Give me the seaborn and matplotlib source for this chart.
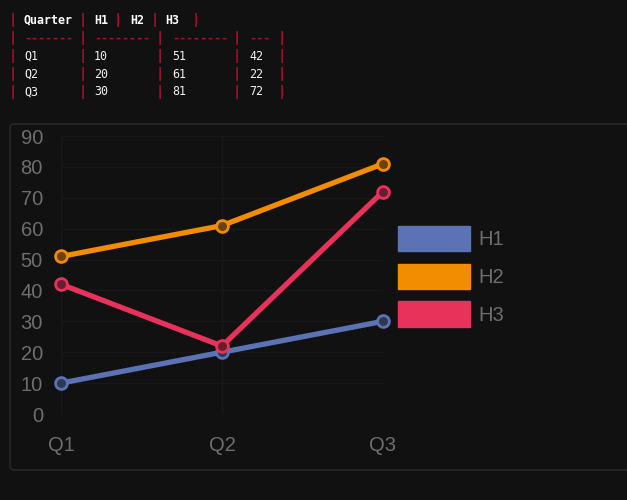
import matplotlib
matplotlib.use("Agg")
import matplotlib.pyplot as plt
import pandas as pd
import seaborn as sns
from matplotlib.patches import FancyBboxPatch, Patch

quarters = ["Q1", "Q2", "Q3"]
h1 = [10, 20, 30]
h2 = [51, 61, 81]
h3 = [42, 22, 72]
series_names = ["H1", "H2", "H3"]
colors = ["#5b73b4", "#f28c00", "#e8325a"]

table_header = ["Quarter", "H1", "H2", "H3"]
table_sep = ["-------", "--------", "--------", "---"]
table_rows = [["Q1", "10", "51", "42"], ["Q2", "20", "61", "22"], ["Q3", "30", "81", "72"]]

BG = "#111111"
W, H = 627, 500

df = pd.DataFrame({
    "Quarter": quarters * 3,
    "value": h1 + h2 + h3,
    "series": [s for s in series_names for _ in quarters],
})

sns.set_theme(style="dark")
plt.rcParams["font.family"] = ["Liberation Sans", "DejaVu Sans"]

fig = plt.figure(figsize=(W / 100, H / 100), dpi=100, facecolor=BG)


def px(x, y):
    return x / W, 1 - y / H


# markdown-style table at the top
pipe_color = "#b0102a"
mono = dict(family="DejaVu Sans Mono", fontsize=8.4)


def pipes(xs, y):
    for x in xs:
        fig.text(*px(x, y), "|", color=pipe_color, ha="center", va="center",
                 weight="bold", family="DejaVu Sans Mono", fontsize=10)


pipes([13, 83, 118, 155, 196], 20)
for txt, x in zip(table_header, [24, 94, 130, 165]):
    fig.text(*px(x, 20), txt, color="white", ha="left", va="center", weight="bold", **mono)

row_pipes = [13, 83, 160, 237, 282]
col_x = [24, 94, 172, 249]
pipes(row_pipes, 38)
for txt, x in zip(table_sep, col_x):
    fig.text(*px(x, 38), txt, color=pipe_color, ha="left", va="center", weight="bold", **mono)
for i, row in enumerate(table_rows):
    y = 56 + 18 * i
    pipes(row_pipes, y)
    for txt, x in zip(row, col_x):
        fig.text(*px(x, y), txt, color="#f2f2f2", ha="left", va="center", **mono)

# chart panel
x0, y0 = px(10, 470)
panel = FancyBboxPatch((x0, y0), 0.99, (470 - 124) / H,
                       boxstyle="round,pad=0,rounding_size=0.008",
                       transform=fig.transFigure, facecolor=BG,
                       edgecolor="#2c2c2c", linewidth=1, zorder=-5)
fig.patches.append(panel)

ax = fig.add_axes([61 / W, (500 - 414) / H, (383 - 61) / W, (414 - 136) / H])
ax.set_facecolor(BG)
ax.patch.set_alpha(0)

sns.lineplot(data=df, x="Quarter", y="value", hue="series", palette=colors,
             marker="o", markersize=8.5, markeredgewidth=2, linewidth=3.8,
             legend=False, ax=ax)


def dark(c, f=0.4):
    r, g, b = matplotlib.colors.to_rgb(c)
    br, bg_, bb = matplotlib.colors.to_rgb(BG)
    return (r * f + br * (1 - f), g * f + bg_ * (1 - f), b * f + bb * (1 - f))


for line, c in zip(ax.lines, colors):
    line.set_markerfacecolor(dark(c))
    line.set_markeredgecolor(c)
    line.set_clip_on(False)

ax.set_xlim(0, 2)
ax.set_ylim(0, 90)
ax.set_yticks(range(0, 91, 10))
ax.set_xlabel("")
ax.set_ylabel("")
ax.grid(True, color="#181818", linewidth=1)
for s in ax.spines.values():
    s.set_visible(False)
ax.tick_params(colors="#6e6e6e", labelsize=14.5, length=0)
ax.tick_params(axis="y", pad=13)
ax.tick_params(axis="x", pad=16)

handles = [Patch(facecolor=c, edgecolor=c, label=n) for c, n in zip(colors, series_names)]
fig.legend(handles=handles, loc="upper left", bbox_to_anchor=px(398, 226),
           frameon=False, fontsize=14.5, labelcolor="#6e6e6e",
           handlelength=3.6, handleheight=1.55, labelspacing=0.62,
           handletextpad=0.4, borderpad=0, borderaxespad=0)

fig.savefig("out.png", dpi=100, facecolor=BG)
